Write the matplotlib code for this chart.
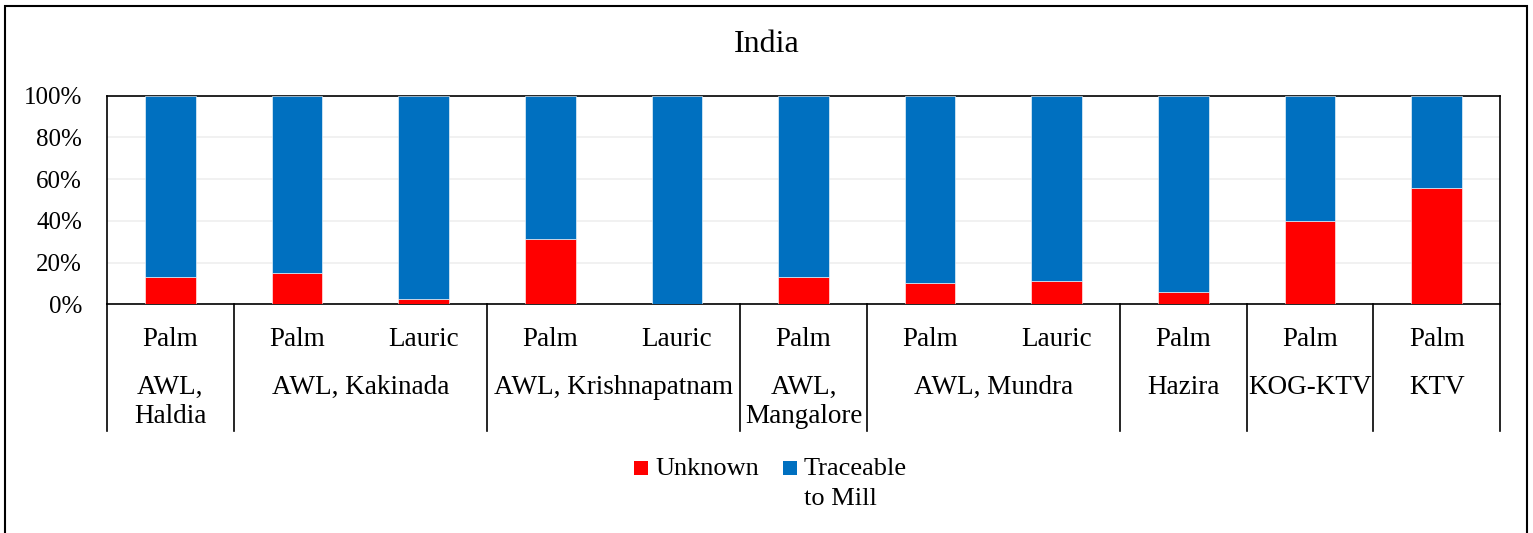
import matplotlib
matplotlib.use("Agg")
import matplotlib.pyplot as plt
import matplotlib.transforms as mtransforms
from matplotlib.patches import Rectangle
import numpy as np

plt.rcParams['font.family'] = ['Liberation Serif', 'DejaVu Serif']

# data
oil_types = ["Palm", "Palm", "Lauric", "Palm", "Lauric", "Palm",
             "Palm", "Lauric", "Palm", "Palm", "Palm"]
refineries = ["AWL,\nHaldia", "AWL, Kakinada", "AWL, Krishnapatnam", "AWL,\nMangalore",
              "AWL, Mundra", "Hazira", "KOG-KTV", "KTV"]
refinery_sizes = [1, 2, 2, 1, 2, 1, 1, 1]
unknown = [13.1, 14.9, 2.4, 31.2, 0.0, 13.1, 10.2, 11.0, 5.9, 39.8, 55.9]
traceable = [86.9, 85.1, 97.6, 68.8, 100.0, 86.9, 89.8, 89.0, 94.1, 60.2, 44.1]
series_names = ["Unknown", "Traceable\nto Mill"]
colors = ["#FF0000", "#0070C0"]
yticks = [0, 20, 40, 60, 80, 100]

W, H = 1533, 533
fig = plt.figure(figsize=(W / 100, H / 100), dpi=100)
ax = fig.add_axes([107 / W, 1 - 304.3 / H, (1500 - 107) / W, (304.3 - 95.7) / H])

x = np.arange(len(oil_types))
ax.bar(x, unknown, width=0.4, color=colors[0], edgecolor="white", linewidth=0.4, zorder=3)
ax.bar(x, traceable, width=0.4, bottom=unknown, color=colors[1], edgecolor="white",
       linewidth=0.4, zorder=3)

ax.set_xlim(-0.5, len(x) - 0.5)
ax.set_ylim(0, 100)
ax.set_yticks(yticks)
ax.set_yticklabels([f"{v}%" for v in yticks], fontsize=18)
ax.tick_params(axis="y", length=0, pad=18)
ax.set_xticks([])
ax.grid(axis="y", color="#efefef", linewidth=1.2, zorder=0)
for sp in ax.spines.values():
    sp.set_color("black")
    sp.set_linewidth(1.2)

# multi-level category axis
axh = 304.3 - 95.7
def ay(py):
    return -(py - 304.3) / axh

trans = mtransforms.blended_transform_factory(ax.transData, ax.transAxes)
for xi, lab in zip(x, oil_types):
    ax.text(xi, ay(339), lab, transform=trans, ha="center", va="center", fontsize=19.5)

bounds = np.concatenate([[0], np.cumsum(refinery_sizes)]) - 0.5
for i, lab in enumerate(refineries):
    cx = (bounds[i] + bounds[i + 1]) / 2
    ax.text(cx, ay(375), lab, transform=trans, ha="center", va="top", fontsize=19.5,
            linespacing=1.2)
for b in bounds:
    ax.plot([b, b], [0, ay(431)], transform=trans, color="black", linewidth=1.2,
            clip_on=False)

# title
fig.text(0.5, 1 - 45 / H, "India", ha="center", va="center", fontsize=23)

# legend
def fx(px):
    return px / W
def fy(py):
    return 1 - py / H

for sq_x, txt_x, name, c in zip([634, 783], [655, 804], series_names, colors):
    fig.add_artist(Rectangle((fx(sq_x), fy(475)), 14 / W, 14 / H, transform=fig.transFigure,
                             facecolor=c, edgecolor="none"))
    fig.text(fx(txt_x), fy(458), name, ha="left", va="top", fontsize=19, linespacing=1.45)

# outer frame
fig.add_artist(Rectangle((fx(5), fy(540)), (1527 - 5) / W, (540 - 6) / H,
                         transform=fig.transFigure, facecolor="none", edgecolor="black",
                         linewidth=1.5))

fig.savefig("out.png", dpi=100)
